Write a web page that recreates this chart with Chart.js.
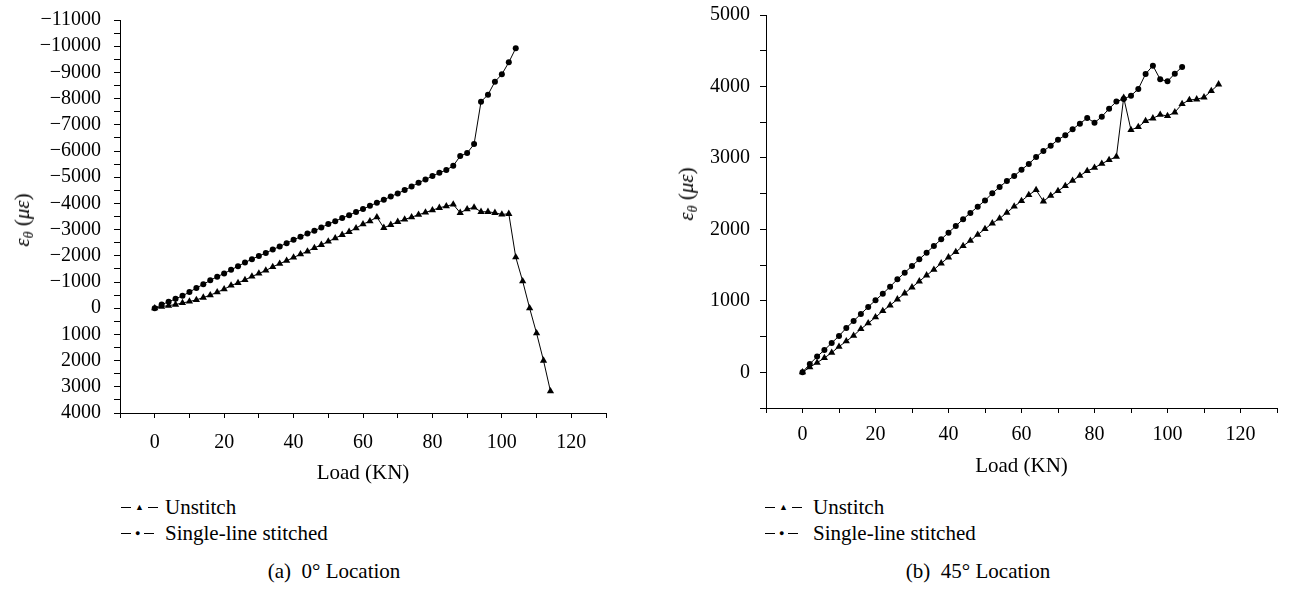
<!DOCTYPE html>
<html>
<head>
<meta charset="utf-8">
<script src="https://cdn.jsdelivr.net/npm/chart.js@4/dist/chart.umd.min.js"></script>
<style>
  html, body { margin: 0; padding: 0; background: #fff; }
  body { width: 1293px; height: 590px; position: relative; overflow: hidden; font-family: "Liberation Serif", "Times New Roman", "DejaVu Serif", serif; color: #000; }
  .wrap { position: absolute; }
  .wrap canvas { display: block; }
  .ytitle { position: absolute; font-size: 21px; line-height: 24px; white-space: nowrap; transform: translate(-50%, -50%) rotate(-90deg); }
  .ytitle sub { font-size: 14px; vertical-align: -4px; line-height: 0; }
  .legend { position: absolute; font-size: 21px; white-space: nowrap; }
  .legend .row { height: 26px; line-height: 26px; display: flex; align-items: center; }
  .legend .sym { display: inline-flex; align-items: center; justify-content: flex-start; }
  .legend .ln { display: inline-block; width: 10px; height: 1px; background: #000; }
  .legend .mk { display: inline-block; font-size: 9px; line-height: 9px; margin: 0 4px; }
  .caption { position: absolute; font-size: 21px; white-space: nowrap; transform: translate(-50%, -50%); }
</style>
</head>
<body>
<div class="wrap" style="left:0;top:0;width:640px;height:486px;"><canvas id="c1" width="640" height="486"></canvas></div>
<div class="wrap" style="left:640px;top:0;width:653px;height:479px;"><canvas id="c2" width="653" height="479"></canvas></div>

<div class="ytitle" style="left:22px;top:220px;"><i>ε</i><sub><i>θ</i></sub> (<i>με</i>)</div>
<div class="ytitle" style="left:686px;top:194px;"><i>ε</i><sub><i>θ</i></sub> (<i>με</i>)</div>

<div class="legend" style="left:121px;top:494px;">
  <div class="row"><span class="sym" style="width:44px"><span class="ln"></span><span class="mk">▲</span><span class="ln"></span></span><span>Unstitch</span></div>
  <div class="row"><span class="sym" style="width:44px"><span class="ln"></span><span class="mk">●</span><span class="ln"></span></span><span>Single-line stitched</span></div>
</div>
<div class="legend" style="left:765px;top:494px;">
  <div class="row"><span class="sym" style="width:48px"><span class="ln"></span><span class="mk">▲</span><span class="ln"></span></span><span>Unstitch</span></div>
  <div class="row"><span class="sym" style="width:48px"><span class="ln"></span><span class="mk">●</span><span class="ln"></span></span><span>Single-line stitched</span></div>
</div>
<div class="caption" style="left:334px;top:571px;">(a)&nbsp; 0° Location</div>
<div class="caption" style="left:978px;top:571px;">(b)&nbsp; 45° Location</div>

<script>
// ---- Data: (a) 0° Location ----
const loadsUnstitchA = [0,2,4,6,8,10,12,14,16,18,20,22,24,26,28,30,32,34,36,38,40,42,44,46,48,50,52,54,56,58,60,62,64,66,68,70,72,74,76,78,80,82,84,86,88,90,92,94,96,98,100,102,104,106,108,110,112,114];
const strainUnstitchA = [0,-60,-100,-140,-200,-255,-318,-407,-500,-610,-726,-866,-968,-1082,-1210,-1324,-1439,-1578,-1700,-1815,-1935,-2060,-2170,-2304,-2419,-2546,-2674,-2801,-2916,-3056,-3209,-3323,-3476,-3068,-3183,-3298,-3387,-3476,-3566,-3655,-3743,-3832,-3896,-3960,-3642,-3782,-3846,-3680,-3680,-3642,-3578,-3604,-1948,-1031,0,955,1998,3170];
const loadsStitchedA = [0,2,4,6,8,10,12,14,16,18,20,22,24,26,28,30,32,34,36,38,40,42,44,46,48,50,52,54,56,58,60,62,64,66,68,70,72,74,76,78,80,82,84,86,88,90,92,94,96,98,100,102,104];
const strainStitchedA = [0,-140,-242,-357,-471,-615,-770,-910,-1063,-1203,-1324,-1464,-1604,-1744,-1871,-1993,-2108,-2241,-2355,-2483,-2610,-2725,-2852,-2954,-3082,-3209,-3323,-3438,-3552,-3667,-3782,-3909,-4024,-4138,-4266,-4380,-4507,-4647,-4787,-4914,-5042,-5169,-5271,-5437,-5806,-5921,-6264,-7881,-8149,-8645,-8926,-9385,-9920];

// ---- Data: (b) 45° Location ----
const loadsUnstitchB = [0,2,4,6,8,10,12,14,16,18,20,22,24,26,28,30,32,34,36,38,40,42,44,46,48,50,52,54,56,58,60,62,64,66,68,70,72,74,76,78,80,82,84,86,88,90,92,94,96,98,100,102,104,106,108,110,112,114];
const strainUnstitchB = [0,70,135,200,275,359,434,513,606,686,770,858,937,1021,1105,1189,1273,1357,1436,1525,1609,1683,1767,1842,1926,2005,2085,2152,2234,2320,2397,2481,2551,2393,2472,2537,2607,2681,2751,2817,2863,2919,2971,3017,3843,3391,3433,3517,3554,3605,3587,3638,3755,3811,3820,3848,3937,4030];
const loadsStitchedB = [0,2,4,6,8,10,12,14,16,18,20,22,24,26,28,30,32,34,36,38,40,42,44,46,48,50,52,54,56,58,60,62,64,66,68,70,72,74,76,78,80,82,84,86,88,90,92,94,96,98,100,102,104];
const strainStitchedB = [0,116,219,312,410,508,620,718,816,914,1008,1100,1198,1301,1394,1488,1581,1674,1768,1861,1954,2047,2143,2230,2318,2404,2505,2593,2677,2747,2835,2915,3013,3097,3171,3255,3317,3401,3479,3559,3493,3577,3689,3788,3825,3871,3965,4175,4291,4100,4072,4179,4273];

// ---- Tick labels ----
const xTickLabels = [0,20,40,60,80,100,120];
const yTickLabelsA = [-11000,-10000,-9000,-8000,-7000,-6000,-5000,-4000,-3000,-2000,-1000,0,1000,2000,3000,4000];
const yTickLabelsB = [0,1000,2000,3000,4000,5000];
const seriesNames = ['Unstitch', 'Single-line stitched'];

const FONT = "'Liberation Serif', 'Times New Roman', 'DejaVu Serif', serif";
const toPts = (xs, ys) => xs.map((x, i) => ({x: x, y: ys[i]}));
const fmtNum = v => v < 0 ? '\u2212' + Math.abs(v) : String(v);

function makeChart(id, uX, uY, sX, sY, yMin, yMax, yLabels, reverse, yWidth, yPad, xHeight, xPad, padding) {
  const ds = (label, xs, ys, style, r) => ({
    label: label, data: toPts(xs, ys), showLine: true,
    borderColor: '#000', borderWidth: 1, tension: 0,
    pointStyle: style, pointRadius: r, pointHoverRadius: r,
    pointBackgroundColor: '#000', pointBorderColor: '#000', pointBorderWidth: 0
  });
  return new Chart(document.getElementById(id), {
    type: 'scatter',
    data: { datasets: [
      ds(seriesNames[0], uX, uY, 'triangle', 4.2),
      ds(seriesNames[1], sX, sY, 'circle', 3)
    ]},
    options: {
      responsive: false, animation: false, events: [],
      layout: { padding: padding },
      plugins: { legend: { display: false }, tooltip: { enabled: false }, title: { display: false } },
      scales: {
        x: {
          type: 'linear', min: -10, max: 130,
          ticks: { stepSize: 10, autoSkip: false, maxRotation: 0, padding: xPad,
                   font: { family: FONT, size: 20 }, color: '#000',
                   callback: v => xTickLabels.includes(v) ? String(v) : '' },
          grid: { drawOnChartArea: false, drawTicks: true, tickLength: 5, color: '#000', lineWidth: 1 },
          border: { display: true, color: '#000', width: 1 },
          title: { display: true, text: 'Load (KN)', color: '#000', font: { family: FONT, size: 21 }, padding: { top: 0, bottom: 0 } },
          afterFit: s => { s.height = xHeight; s.paddingLeft = 0; s.paddingRight = 0; }
        },
        y: {
          type: 'linear', min: yMin, max: yMax, reverse: reverse,
          ticks: { stepSize: 500, autoSkip: false, padding: yPad,
                   font: { family: FONT, size: 20 }, color: '#000',
                   callback: v => yLabels.includes(v) ? fmtNum(v) : '' },
          grid: { drawOnChartArea: false, drawTicks: true, tickLength: 6, color: '#000', lineWidth: 1 },
          border: { display: true, color: '#000', width: 1 },
          afterFit: s => { s.width = yWidth; s.paddingTop = 0; s.paddingBottom = 0; }
        }
      }
    }
  });
}

makeChart('c1', loadsUnstitchA, strainUnstitchA, loadsStitchedA, strainStitchedA,
          -11000, 4000, yTickLabelsA, true, 120, 13, 73, 13, { top: 20, right: 34, left: 0, bottom: 0 });
makeChart('c2', loadsUnstitchB, strainUnstitchB, loadsStitchedB, strainStitchedB,
          -500, 5000, yTickLabelsB, false, 126, 10, 71, 10, { top: 15, right: 16, left: 0, bottom: 0 });
</script>
</body>
</html>
